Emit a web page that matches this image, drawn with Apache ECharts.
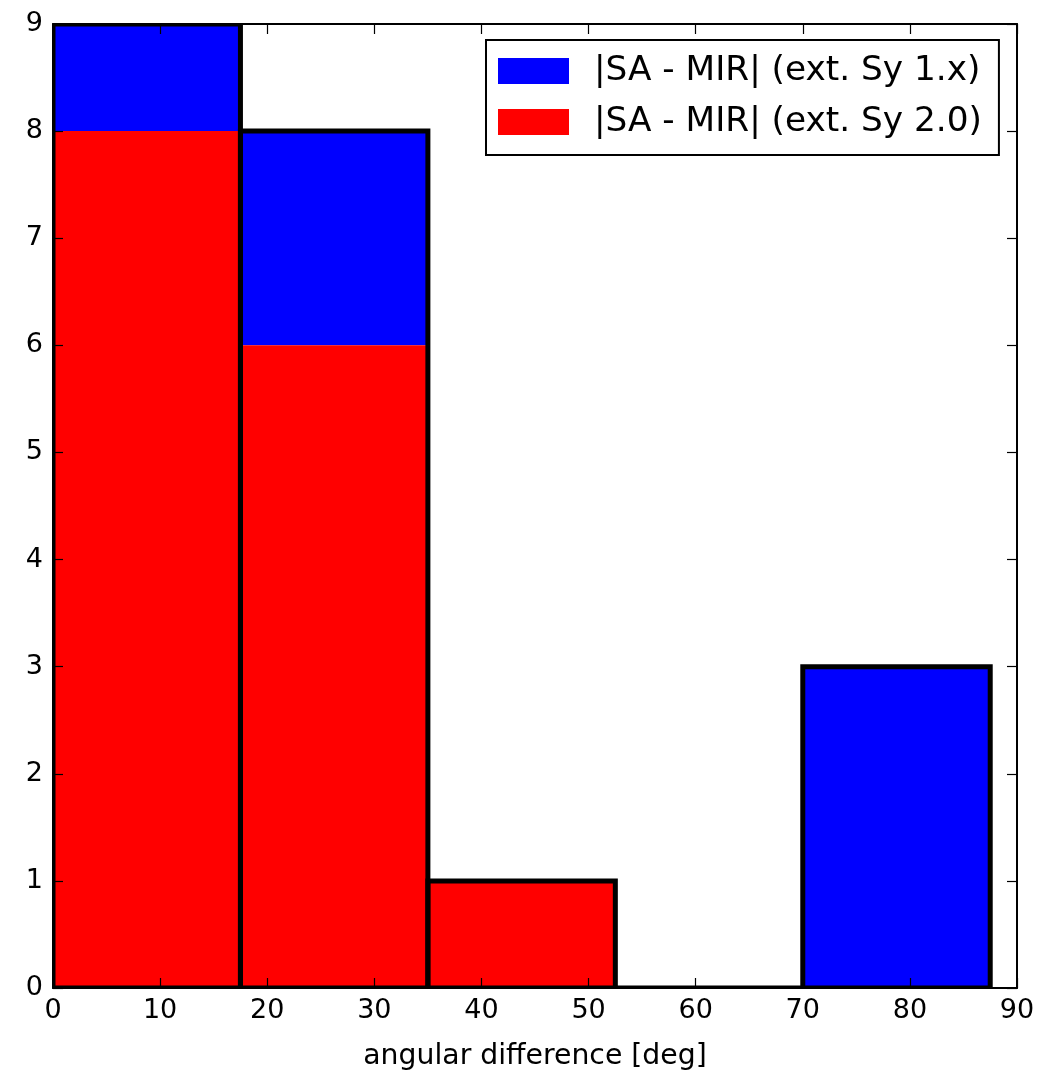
<!DOCTYPE html>
<html>
<head>
<meta charset="utf-8">
<script src="https://cdn.jsdelivr.net/npm/echarts@6/dist/echarts.min.js"></script>
<style>
  html, body { margin: 0; padding: 0; background: #fff; }
  #chart { width: 1051px; height: 1070px; }
</style>
</head>
<body>
<div id="chart"></div>
<script>
// Histogram bins of the angular difference (deg)
const binEdges = [0, 17.5, 35, 52.5, 70, 87.5];
// Counts per bin: Sy 2.0 at the bottom, Sy 1.x stacked on top
const sy2Counts = [8, 6, 1, 0, 0];
const sy1Counts = [1, 2, 0, 0, 3];
const xTicks = [0, 10, 20, 30, 40, 50, 60, 70, 80, 90];
const yTicks = [0, 1, 2, 3, 4, 5, 6, 7, 8, 9];

const nameSy1 = '|SA - MIR| (ext. Sy 1.x)';
const nameSy2 = '|SA - MIR| (ext. Sy 2.0)';
const FONT = '"DejaVu Sans", sans-serif';

// [left edge, right edge, bottom, top] per bin
const sy2Data = sy2Counts.map((c, i) => [binEdges[i], binEdges[i + 1], 0, c]);
const sy1Data = sy1Counts.map((c, i) => [binEdges[i], binEdges[i + 1], sy2Counts[i], sy2Counts[i] + c]);
const totalData = sy1Counts.map((c, i) => [binEdges[i], binEdges[i + 1], 0, sy2Counts[i] + c]);

function fillRect(color) {
  return function (params, api) {
    const p0 = api.coord([api.value(0), api.value(2)]);
    const p1 = api.coord([api.value(1), api.value(3)]);
    return {
      type: 'rect',
      shape: { x: p0[0], y: p1[1], width: p1[0] - p0[0], height: p0[1] - p1[1] },
      style: { fill: color }
    };
  };
}

function outlineRect(params, api) {
  const p0 = api.coord([api.value(0), api.value(2)]);
  const p1 = api.coord([api.value(1), api.value(3)]);
  return {
    type: 'polygon',
    shape: { points: [[p0[0], p0[1]], [p0[0], p1[1]], [p1[0], p1[1]], [p1[0], p0[1]]] },
    style: { fill: null, stroke: '#000', lineWidth: 5, lineJoin: 'miter' }
  };
}

const tickMin = xTicks[0], tickMax = xTicks[xTicks.length - 1];
const yMin = yTicks[0], yMax = yTicks[yTicks.length - 1];

function xAxisDef(pos, withLabels) {
  return {
    type: 'value', position: pos, min: tickMin, max: tickMax, interval: 10, z: 10,
    axisLine: { show: true, onZero: false, lineStyle: { color: '#000', width: 2 } },
    axisTick: { show: true, inside: true, length: 10, lineStyle: { color: '#000', width: 1.2 } },
    axisLabel: { show: withLabels, color: '#000', fontFamily: FONT, fontSize: 27, margin: 9 },
    splitLine: { show: false },
    name: withLabels ? 'angular difference [deg]' : '',
    nameLocation: 'middle', nameGap: 55,
    nameTextStyle: { color: '#000', fontFamily: FONT, fontSize: 28.3 }
  };
}

function yAxisDef(pos, withLabels) {
  return {
    type: 'value', position: pos, min: yMin, max: yMax, interval: 1, z: 10,
    axisLine: { show: true, onZero: false, lineStyle: { color: '#000', width: 2 } },
    axisTick: { show: true, inside: true, length: 10, lineStyle: { color: '#000', width: 1.2 } },
    axisLabel: { show: withLabels, color: '#000', fontFamily: FONT, fontSize: 27, margin: 10 },
    splitLine: { show: false }
  };
}

const chart = echarts.init(document.getElementById('chart'), null, { renderer: 'canvas' });
chart.setOption({
  backgroundColor: '#fff',
  animation: false,
  grid: { left: 53, right: 34, top: 24, bottom: 82, containLabel: false, outerBoundsMode: 'none' },
  xAxis: [xAxisDef('bottom', true), xAxisDef('top', false)],
  yAxis: [yAxisDef('left', true), yAxisDef('right', false)],
  legend: {
    orient: 'vertical',
    left: 486, top: 40,
    padding: [14, 17, 16, 12],
    itemGap: 17,
    itemWidth: 71, itemHeight: 26,
    icon: 'rect',
    selectedMode: false,
    borderColor: '#000', borderWidth: 2,
    backgroundColor: '#fff',
    textStyle: { color: '#000', fontFamily: FONT, fontSize: 34.3, lineHeight: 34, padding: [0, 0, 0, 20] },
    data: [nameSy1, nameSy2]
  },
  series: [
    {
      name: nameSy1, type: 'custom', xAxisIndex: 0, yAxisIndex: 0,
      itemStyle: { color: '#0000ff' },
      renderItem: fillRect('#0000ff'), clip: true, z: 2,
      data: sy1Data
    },
    {
      name: nameSy2, type: 'custom', xAxisIndex: 0, yAxisIndex: 0,
      itemStyle: { color: '#ff0000' },
      renderItem: fillRect('#ff0000'), clip: true, z: 2,
      data: sy2Data
    },
    {
      name: 'outline', type: 'custom', xAxisIndex: 0, yAxisIndex: 0,
      renderItem: outlineRect, clip: true, z: 3, silent: true,
      data: totalData
    }
  ]
});
</script>
</body>
</html>
